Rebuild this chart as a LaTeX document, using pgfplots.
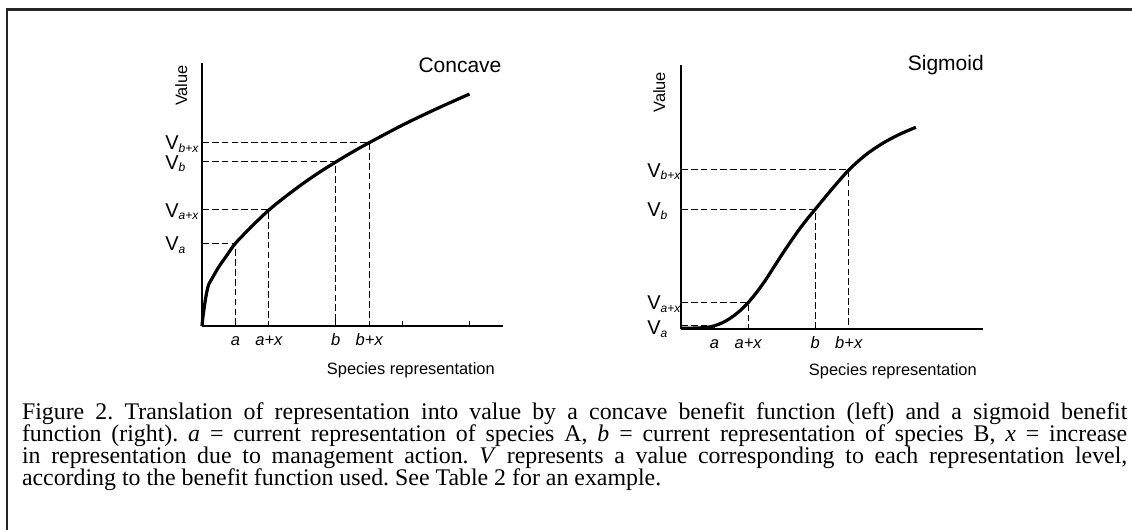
\documentclass[border=0pt]{standalone}
\usepackage{fontspec}
\setmainfont{Liberation Sans}
\newfontfamily\capfont{Liberation Serif}
\usepackage{pgfplots}
\pgfplotsset{compat=1.18}
\newcommand{\Vl}[1]{{\fontsize{15pt}{15pt}\selectfont V}\raisebox{-2pt}{\fontsize{9pt}{9pt}\selectfont\itshape #1}}
\pgfplotsset{
  myaxis/.style={
    scale only axis, axis x line=bottom, axis y line=left,
    axis line style={-, line width=1.35pt},
    xmin=0, xmax=9, ymin=0, clip=false,
    tick align=inside, major tick length=3.75pt,
    tick style={black, line width=0.75pt},
    ytick style={draw=none},
    xticklabel style={anchor=base, inner sep=0pt, yshift=-14.25pt,
      font=\fontsize{12.4pt}{12.4pt}\selectfont\itshape},
    yticklabel style={anchor=base west, inner sep=0pt, yshift=-5.35pt},
  },
  curve/.style={black, line width=2.4pt, smooth, no marks},
  guide/.style={black, line width=0.75pt, dash pattern=on 5pt off 2.4pt, no marks},
}
\begin{document}
\frenchspacing
\begin{tikzpicture}
\useasboundingbox (0,0) rectangle (849pt,396.75pt);
\fill[white] (0,0) rectangle (849pt,396.75pt);
\draw[black!85, line width=1.5pt] (5.25pt,390.5pt) -- (5.25pt,-5pt);
\draw[black!85, line width=2.1pt] (4.5pt,389.6pt) -- (860pt,389.6pt);

% ---------------- Concave ----------------
\begin{axis}[myaxis,
  at={(151.5pt,152.25pt)}, anchor=south west,
  width=225.75pt, height=197.25pt, ymax=263,
  xtick={1,2,4,5,6,8}, xticklabels={a,a+x,b,b+x,{},{}},
  ytick={82.7,116,164,183.3},
  yticklabels={\Vl{a},\Vl{a+x},\Vl{b},\Vl{b+x}},
  yticklabel style={xshift=-27.75pt},
]
\addplot[guide] coordinates {(0,82.7) (1,82.7) (1,0)};
\addplot[guide] coordinates {(0,116) (2,116) (2,0)};
\addplot[guide] coordinates {(0,164) (4,164) (4,0)};
\addplot[guide] coordinates {(0,183.3) (5,183.3) (5,0)};
\addplot[curve] coordinates {
 (0,0) (0.02,7) (0.06,17) (0.1,26) (0.15,35) (0.2,41.5) (0.3,47.5) (0.5,59)
 (0.75,71) (1,82.7) (1.5,100) (2,116) (2.5,129.5) (3,142) (3.5,153.5)
 (4,164) (4.5,174) (5,183.3) (6,201) (7,217) (8,232)};
\node[anchor=base east, inner sep=0pt, font=\fontsize{15.75pt}{15.75pt}\selectfont]
  at (rel axis cs:1,1) [xshift=-1pt, yshift=-7pt] {Concave};
\node[xshift=-11.25pt, yshift=-1.5pt, rotate=90, anchor=base east, inner sep=0pt,
  font=\fontsize{12.3pt}{12.3pt}\selectfont] at (rel axis cs:0,1) {Value};
\node[anchor=base east, inner sep=0pt, font=\fontsize{12.3pt}{12.3pt}\selectfont]
  at (rel axis cs:1,0) [xshift=-6pt, yshift=-36pt] {Species representation};
\end{axis}

% ---------------- Sigmoid ----------------
\begin{axis}[myaxis,
  at={(510.75pt,150pt)}, anchor=south west,
  width=226.5pt, height=198pt, ymax=264,
  xtick={1,2,4,5}, xticklabels={a,a+x,b,b+x},
  xtick style={draw=none},
  ytick={3.3,26.3,119.7,159},
  yticklabels={\raisebox{-1.4pt}{\Vl{a}},\Vl{a+x},\Vl{b},\Vl{b+x}},
  yticklabel style={xshift=-25.5pt},
]
\addplot[guide] coordinates {(0,3.3) (1,3.3) (1,0)};
\addplot[guide] coordinates {(0,26.3) (2,26.3) (2,0)};
\addplot[guide] coordinates {(0,119.7) (4,119.7) (4,0)};
\addplot[guide] coordinates {(0,159) (5,159) (5,0)};
\addplot[curve] coordinates {
 (0,0.8) (0.5,1) (0.8,1.8) (1,3.3) (1.25,6.5) (1.5,11.5) (1.75,18) (2,26.3)
 (2.25,36.5) (2.5,48) (2.75,61) (3,74) (3.25,86.5) (3.5,98.5) (3.75,109.5)
 (4,119.7) (4.5,140) (5,159) (5.5,174) (6,185.5) (6.5,194.5) (7,201.7)};
\node[anchor=base east, inner sep=0pt, font=\fontsize{15.75pt}{15.75pt}\selectfont]
  at (rel axis cs:1,1) [xshift=0.75pt, yshift=-4.3pt] {Sigmoid};
\node[xshift=-12pt, yshift=-5pt, rotate=90, anchor=base east, inner sep=0pt,
  font=\fontsize{12.3pt}{12.3pt}\selectfont] at (rel axis cs:0,1) {Value};
\node[anchor=base east, inner sep=0pt, font=\fontsize{12.3pt}{12.3pt}\selectfont]
  at (rel axis cs:1,0) [xshift=-4.5pt, yshift=-34.5pt] {Species representation};
\end{axis}

% ---------------- Caption ----------------
\begin{scope}[every node/.style={anchor=base west, inner sep=0pt,
   font=\capfont\fontsize{17.9pt}{16.65pt}\selectfont\frenchspacing}]
\node at (16.3pt,82.5pt) {\makebox[829pt][s]{Figure 2. Translation of representation into value by a concave benefit function (left) and a sigmoid benefit}};
\node at (16.3pt,65.6pt) {\makebox[829pt][s]{function (right). \textit{a} = current representation of species A, \textit{b} = current representation of species B, \textit{x} = increase}};
\node at (16.3pt,49.1pt) {\makebox[829pt][s]{in representation due to management action. \textit{V} represents a value corresponding to each representation level,}};
\node at (16.3pt,32.6pt) {according to the benefit function used. See Table 2 for an example.};
\end{scope}
\end{tikzpicture}
\end{document}
